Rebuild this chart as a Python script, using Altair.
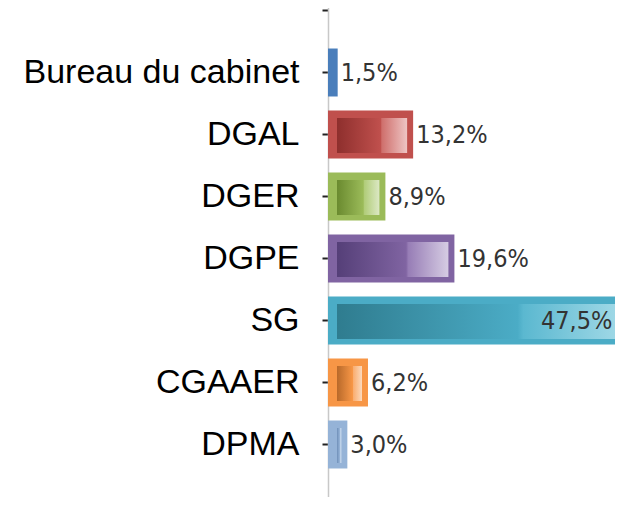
import altair as alt
import pandas as pd

categories = ["Bureau du cabinet", "DGAL", "DGER", "DGPE", "SG", "CGAAER", "DPMA"]
values = [1.5, 13.2, 8.9, 19.6, 47.5, 6.2, 3.0]
labels = ["1,5%", "13,2%", "8,9%", "19,6%", "47,5%", "6,2%", "3,0%"]
base_colors = ["#4A7EBB", "#C0504D", "#9BBB59", "#8064A2", "#4BACC6", "#F79646", "#95B3D7"]
dark_colors = ["#3F6DA6", "#8E2F2D", "#6A8A2F", "#553F78", "#2F7C8F", "#B8692A", "#6F8FB8"]
light_colors = ["#5A8CC6", "#CF6F6C", "#B0CC78", "#977DB6", "#5BB8D0", "#F9AC6E", "#A9C3E0"]
pale_colors = ["#7FA5D6", "#EEC5C4", "#DCE8C4", "#D6CCE3", "#A7DCE9", "#FCD9BC", "#D5E2F1"]

# blank slots above/below so the axis line runs through the whole frame
y_domain = [" "] + categories + ["  "]

df = pd.DataFrame({
    "category": categories,
    "value": values,
    "label": labels,
    "base": [0] * len(categories),
})

y_enc = alt.Y(
    "category:N",
    sort=y_domain,
    scale=alt.Scale(domain=y_domain, range=[-28.5, 529.5], paddingInner=0.226, paddingOuter=0.113),
    axis=alt.Axis(title=None, labelFont="Liberation Sans", labelFontSize=34, labelColor="#000000",
                  labelPadding=23, tickSize=6, tickWidth=2, tickColor="#222222",
                  domainColor="#C8C8C8", domainWidth=1.5, labelLimit=400),
)
x_scale = alt.Scale(domain=[0, 44.5], nice=False, zero=True)

base = alt.Chart(df)

outer = base.mark_bar().encode(
    x=alt.X("value:Q", scale=x_scale, axis=None),
    y=y_enc,
    color=alt.Color("category:N", scale=alt.Scale(domain=categories, range=base_colors), legend=None),
)

layers = [outer]
for i, cat in enumerate(categories):
    if values[i] < 2:
        continue
    grad = alt.Gradient(
        gradient="linear",
        stops=[
            alt.GradientStop(color=dark_colors[i], offset=0),
            alt.GradientStop(color=base_colors[i], offset=0.62),
            alt.GradientStop(color=light_colors[i], offset=0.64),
            alt.GradientStop(color=pale_colors[i], offset=1),
        ],
        x1=0, x2=1, y1=0, y2=0,
    )
    inner = base.transform_filter(alt.datum.category == cat).mark_bar(
        fill=grad, size=35, xOffset=9, x2Offset=-6, yOffset=1
    ).encode(
        x=alt.X("base:Q", scale=x_scale, axis=None),
        x2="value:Q",
        y=y_enc,
    )
    layers.append(inner)

text_font = "Liberation Sans Narrow, DejaVu Sans Condensed, Arial Narrow, sans-serif"
outside = base.transform_filter(alt.datum.value < 40).mark_text(
    align="left", baseline="middle", dx=3, font=text_font, fontSize=25, color="#333333"
).encode(x=alt.X("value:Q", scale=x_scale, axis=None), y=y_enc, text="label:N")
inside = base.transform_filter(alt.datum.value >= 40).mark_text(
    align="right", baseline="middle", dx=-22, font=text_font, fontSize=25, color="#333333"
).encode(x=alt.X("value:Q", scale=x_scale, axis=None), y=y_enc, text="label:N")
layers += [outside, inside]

chart = alt.layer(*layers).properties(
    width=287, height=489,
    autosize=alt.AutoSizeParams(type="none"),
    padding={"left": 320, "top": 0, "right": 0, "bottom": 0},
).configure(background="#FFFFFF").configure_view(stroke=None)

chart.save("out.html", embed_options={"renderer": "svg", "actions": False})
